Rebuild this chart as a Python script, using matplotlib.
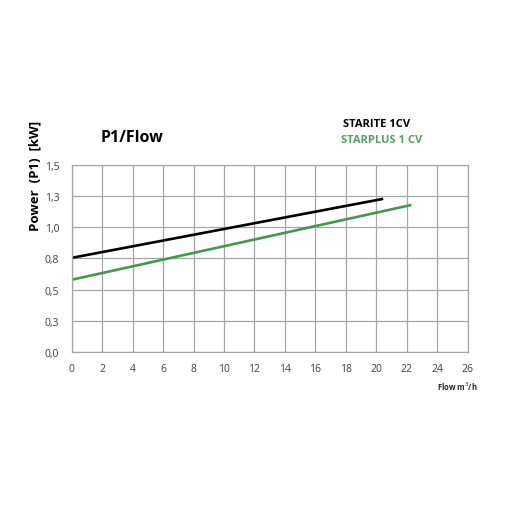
import matplotlib
matplotlib.use("Agg")
from matplotlib import pyplot as plt

# data
starite_flow = [0, 20.45]
starite_power = [0.755, 1.227]
starplus_flow = [0, 22.3]
starplus_power = [0.58, 1.178]

x_ticks = list(range(0, 27, 2))
y_ticks = [0, 0.25, 0.5, 0.75, 1.0, 1.25, 1.5]
y_tick_labels = ["0,0", "0,3", "0,5", "0,8", "1,0", "1,3", "1,5"]

plt.rcParams['font.family'] = ['Open Sans', 'DejaVu Sans']

fig = plt.figure(figsize=(5.1, 5.1), dpi=100)
ax = fig.add_axes([0.1406, 0.3073, 0.7765, 0.3678])

ax.plot(starite_flow, starite_power, color="#000000", linewidth=1.9, solid_capstyle="butt")
ax.plot(starplus_flow, starplus_power, color="#3f9a50", linewidth=1.9, solid_capstyle="butt")

ax.set_xlim(0, 26)
ax.set_ylim(0, 1.5)
ax.set_xticks(x_ticks)
ax.set_yticks(y_ticks)
ax.set_yticklabels(y_tick_labels)
ax.grid(True, color="#a6a6a6", linewidth=0.9)
ax.set_axisbelow(True)
for s in ax.spines.values():
    s.set_color("#a6a6a6")
    s.set_linewidth(0.9)
ax.tick_params(length=0, labelsize=7.5, labelcolor="#404040")
ax.tick_params(axis="x", pad=8)
ax.tick_params(axis="y", pad=9)

fig.text(0.258, 0.729, "P1/Flow", fontsize=11.5, fontweight="bold", ha="center", va="center")
fig.text(0.068, 0.655, "Power  (P1)  [kW]", fontsize=9.5, fontweight="bold",
         rotation=90, ha="center", va="center")
fig.text(0.738, 0.755, "STARITE 1CV", fontsize=8, fontweight="bold", ha="center", va="center")
fig.text(0.748, 0.724, "STARPLUS 1 CV", fontsize=8, fontweight="bold", color="#4f9f6a",
         ha="center", va="center")
fig.text(0.896, 0.242, "Flow m$^3$/h", fontsize=5.5, fontweight="bold", ha="center", va="center",
         color="#262626")

fig.savefig("out.png", dpi=100)
